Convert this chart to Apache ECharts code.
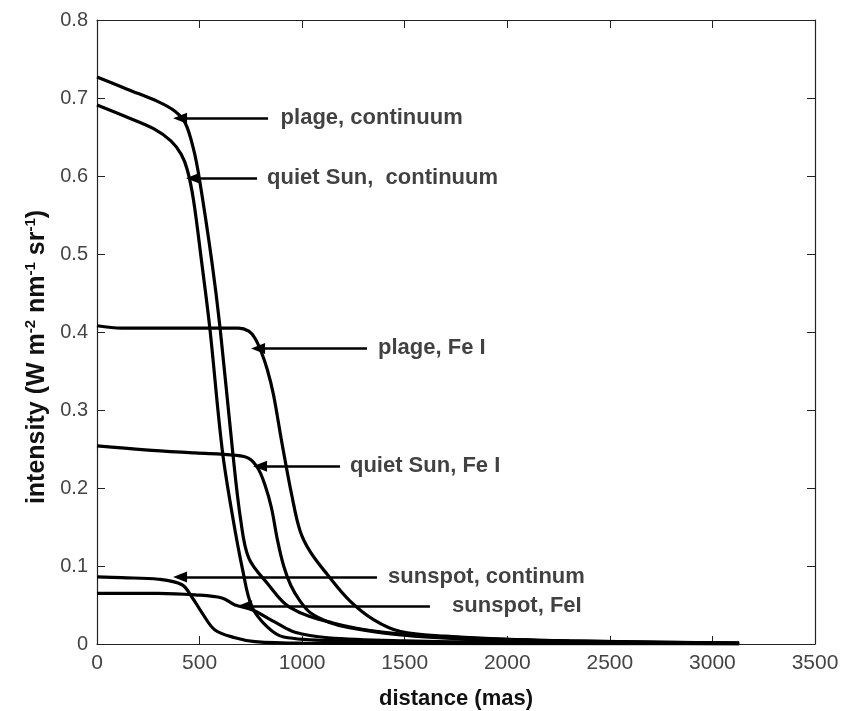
<!DOCTYPE html>
<html>
<head>
<meta charset="utf-8">
<script src="https://cdn.jsdelivr.net/npm/echarts@6/dist/echarts.min.js"></script>
<style>html,body{margin:0;padding:0;background:#fff;}#c{width:844px;height:711px;}</style>
</head>
<body>
<div id="c"></div>
<script>
// ---- data ----
const plageContX = [0, 150, 300, 380, 430, 470, 500, 560, 600, 660, 700, 740, 830, 940, 1150, 1400, 1800, 2300, 3130];
const plageContY = [0.727, 0.711, 0.695, 0.683, 0.668, 0.635, 0.595, 0.49, 0.405, 0.25, 0.16, 0.11, 0.078, 0.047, 0.027, 0.015, 0.008, 0.004, 0.001];

const quietContX = [0, 150, 280, 360, 410, 440, 470, 510, 550, 610, 660, 710, 755, 830, 910, 1200, 1800, 3130];
const quietContY = [0.691, 0.675, 0.660, 0.645, 0.628, 0.608, 0.570, 0.49, 0.405, 0.25, 0.165, 0.095, 0.048, 0.022, 0.009, 0.004, 0.002, 0.0005];

const plageFeX = [0, 120, 300, 500, 690, 740, 770, 800, 830, 860, 900, 950, 990, 1040, 1120, 1230, 1350, 1480, 1700, 2000, 2500, 3130];
const plageFeY = [0.408, 0.405, 0.405, 0.405, 0.405, 0.401, 0.392, 0.375, 0.352, 0.32, 0.26, 0.19, 0.145, 0.118, 0.09, 0.056, 0.031, 0.016, 0.010, 0.006, 0.003, 0.001];

const quietFeX = [0, 234, 478, 673, 740, 785, 820, 850, 880, 910, 945, 990, 1040, 1130, 1230, 1480, 1800, 2200, 3130];
const quietFeY = [0.254, 0.249, 0.245, 0.242, 0.238, 0.225, 0.203, 0.175, 0.133, 0.10, 0.075, 0.055, 0.040, 0.028, 0.021, 0.0115, 0.006, 0.003, 0.001];

const spotContX = [0, 120, 300, 414, 463, 512, 575, 673, 770, 1000, 3130];
const spotContY = [0.086, 0.085, 0.083, 0.076, 0.060, 0.040, 0.018, 0.008, 0.003, 0.001, 0];

const spotFeX = [0, 297, 478, 609, 673, 756, 868, 965, 1126, 1500, 2000, 3130];
const spotFeY = [0.065, 0.065, 0.063, 0.059, 0.050, 0.044, 0.028, 0.015, 0.008, 0.004, 0.002, 0.0005];

// annotations: text, arrow tail x, arrow tip x, y, text x
const annoText  = ['plage, continuum', 'quiet Sun,  continuum', 'plage, Fe I', 'quiet Sun, Fe I', 'sunspot, continum', 'sunspot, FeI'];
const annoTailX = [834, 780, 1316, 1185, 1365, 1623];
const annoTipX  = [405, 468, 785, 795, 405, 722];
const annoY     = [0.674, 0.597, 0.379, 0.228, 0.086, 0.049];
const annoTextX = [895, 829, 1370, 1233, 1419, 1731];

function pts(xs, ys) { return xs.map((x, i) => [x, ys[i]]); }

const curves = [
  [plageContX, plageContY], [quietContX, quietContY],
  [plageFeX, plageFeY], [quietFeX, quietFeY],
  [spotContX, spotContY], [spotFeX, spotFeY]
];

const font = 'Liberation Sans, Arial, sans-serif';

const series = curves.map(c => ({
  type: 'line', data: pts(c[0], c[1]), showSymbol: false, smooth: 0.35,
  lineStyle: { color: '#000', width: 3.2 }, animation: false, silent: true
}));

series.push({
  type: 'line', data: [], silent: true, animation: false,
  markLine: {
    silent: true, animation: false,
    symbol: ['none', 'triangle'], symbolSize: [11, 14],
    lineStyle: { color: '#000', width: 2.5, type: 'solid' },
    label: { show: false },
    data: annoText.map((t, i) => [
      { coord: [annoTailX[i], annoY[i]], symbol: 'none' },
      { coord: [annoTipX[i], annoY[i]], symbol: 'triangle', symbolRotate: 90 }
    ])
  }
});

series.push({
  type: 'scatter', symbolSize: 0, silent: true, animation: false,
  data: annoText.map((t, i) => ({ value: [annoTextX[i], annoY[i]], name: t })),
  label: {
    show: true, position: 'right', distance: 0,
    formatter: p => p.name,
    fontFamily: font, fontSize: 22, fontWeight: 'bold', color: '#111'
  }
});

const axisLineStyle = { lineStyle: { color: '#222', width: 1.2 } };
const tickStyle = { show: true, inside: true, length: 8, lineStyle: { color: '#222' } };

const option = {
  backgroundColor: '#fff',
  animation: false,
  grid: { left: 97, right: 29, top: 20, bottom: 67, outerBoundsMode: 'none', containLabel: false },
  xAxis: [{
    type: 'value', min: 0, max: 3500, interval: 500,
    axisLine: Object.assign({ show: true, onZero: false }, axisLineStyle),
    axisTick: tickStyle,
    splitLine: { show: false },
    axisLabel: { fontFamily: font, fontSize: 21, color: '#444', margin: 9, formatter: v => String(v) },
    name: 'distance (mas)', nameLocation: 'middle', nameGap: 44,
    nameTextStyle: { fontFamily: font, fontSize: 22, fontWeight: 'bold', color: '#111' }
  }, {
    type: 'value', min: 0, max: 3500, interval: 500, position: 'top',
    axisLine: Object.assign({ show: true, onZero: false }, axisLineStyle),
    axisTick: tickStyle,
    axisLabel: { show: false }, splitLine: { show: false }
  }],
  yAxis: [{
    type: 'value', min: 0, max: 0.8, interval: 0.1,
    axisLine: Object.assign({ show: true, onZero: false }, axisLineStyle),
    axisTick: tickStyle,
    splitLine: { show: false },
    axisLabel: { fontFamily: font, fontSize: 20, color: '#444', margin: 9,
      formatter: v => (Math.round(v * 10) / 10).toString() },
    name: '{n|intensity (W m}{s|-2}{n| nm}{s|-1}{n| sr}{s|-1}{n|)}',
    nameLocation: 'middle', nameGap: 46, nameRotate: 90,
    nameTextStyle: {
      padding: [0, 50, 0, 0],
      rich: {
        n: { fontFamily: font, fontSize: 25, fontWeight: 'bold', color: '#111' },
        s: { fontFamily: font, fontSize: 15, fontWeight: 'bold', color: '#111', verticalAlign: 'top', padding: [0, 0, 12, 0] }
      }
    }
  }, {
    type: 'value', min: 0, max: 0.8, interval: 0.1, position: 'right',
    axisLine: Object.assign({ show: true, onZero: false }, axisLineStyle),
    axisTick: tickStyle,
    axisLabel: { show: false }, splitLine: { show: false }
  }],
  series: series
};

const chart = echarts.init(document.getElementById('c'), null, { renderer: 'canvas' });
chart.setOption(option);
</script>
</body>
</html>
